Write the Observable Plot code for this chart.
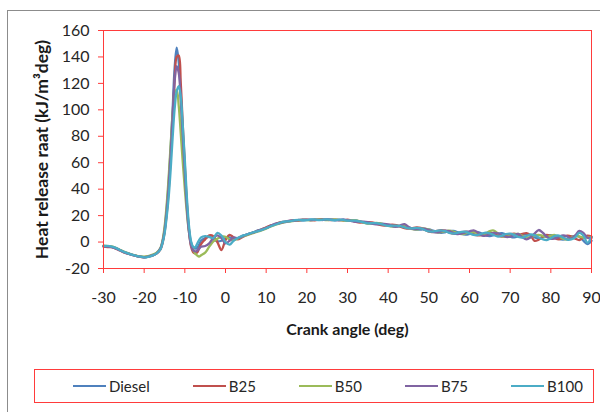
<!DOCTYPE html>
<html>
<head>
<meta charset="utf-8">
<script src="https://cdn.jsdelivr.net/npm/d3@7"></script>
<script src="https://cdn.jsdelivr.net/npm/@observablehq/plot@0.6"></script>
<style>
  body { margin: 0; background: #fff; font-family: Lato, "Open Sans", sans-serif; overflow: hidden; }
  #wrap { position: relative; width: 600px; height: 412px; overflow: hidden; }
  #border { position: absolute; left: 7px; top: 10px; width: 640px; height: 440px; border: 1px solid #8c8c8c; }
  #chart { position: absolute; left: 0; top: 0; }
  #legend {
    position: absolute; left: 34px; top: 369px; width: 560px; height: 34px;
    box-sizing: border-box; border: 1px solid #ff3b3b;
    display: flex; align-items: center; gap: 43px; padding-left: 38px;
    font-size: 15px; color: #262626;
  }
  .item { display: flex; align-items: center; }
  .swatch { display: inline-block; width: 33px; height: 2px; margin-right: 3px; }
</style>
</head>
<body>
<div id="wrap">
  <div id="border"></div>
  <div id="chart"></div>
  <div id="legend"></div>
</div>
<script>
// Crank angle (deg): 1° steps, 0.5° steps through the premixed combustion peak
const angle = [
  -30, -29, -28, -27, -26, -25, -24, -23, -22, -21, -20, -19, -18, -17,
  -16, -15.5, -15, -14.5, -14, -13.5, -13, -12.5, -12, -11.5, -11, -10.5, -10, -9.5, -9, -8.5, -8, -7.5, -7, -6.5, -6,
  -5, -4, -3, -2, -1, 0, 1, 2, 3, 4, 5, 6, 7, 8, 9,
  10, 11, 12, 13, 14, 15, 16, 17, 18, 19, 20, 21, 22, 23, 24, 25, 26, 27, 28, 29,
  30, 31, 32, 33, 34, 35, 36, 37, 38, 39, 40, 41, 42, 43, 44, 45, 46, 47, 48, 49,
  50, 51, 52, 53, 54, 55, 56, 57, 58, 59, 60, 61, 62, 63, 64, 65, 66, 67, 68, 69,
  70, 71, 72, 73, 74, 75, 76, 77, 78, 79, 80, 81, 82, 83, 84, 85, 86, 87, 88, 89, 90
];

// Heat release rate (kJ/m³deg) for each fuel
const diesel = [
  -3, -3.2, -3.6, -4.6, -6, -7.5, -8.6, -9.6, -10.4, -11, -11.4, -11, -10, -8.6,
  -5, 0, 9, 24, 44, 70, 100, 132, 147, 136, 112, 82, 55, 28, 10, 0, -4, -5, -4.5, -2, 1,
  3, 4, 2.5, 0.5, 1, 3, 3.5, 2.5, 3, 4.5, 5.5, 6.5, 7.5, 8.8, 9.8,
  10.8, 12.2, 13.3, 14.4, 14.9, 15.3, 15.9, 16.4, 16.5, 16.4, 16.7, 17, 16.9, 16.7, 16.9, 17.1, 16.9, 16.6, 16.8, 16.9,
  16.4, 16.4, 16.3, 15.6, 14.7, 14.1, 14.1, 14.3, 14.2, 13.5, 12.5, 11.8, 11.8, 12.1, 12.1, 11.2, 10.1, 9.4, 9.5, 9.8,
  9.6, 8.7, 7.6, 7, 7.4, 8.2, 8.4, 7.6, 6.3, 5.6, 6.1, 7.1, 7.5, 6.4, 5, 4.5, 5.4, 6.4, 6.7, 5.7,
  4.1, 3.5, 4.4, 5.5, 5.8, 5, 3.6, 2.9, 3.5, 4.8, 5.3, 4.4, 2.6, 1.9, 2.7, 4, 4.6, 4, 1, -1.5, 1
];
const b25 = [
  -3.5, -3.8, -3.9, -5, -6.3, -7.8, -8.8, -9.7, -10.5, -11.2, -11.5, -11, -10.2, -8.8,
  -5.5, -1, 7, 20, 38, 63, 92, 122, 140, 141, 120, 88, 58, 30, 10, -3, -7.5, -8.5, -8, -5, -1.5,
  2, 5, 4.5, 0, -6, 1.5, 5.5, 3.5, 2, 3.5, 5, 6.3, 7.5, 8.5, 9.7,
  11.2, 12.4, 13.1, 14.5, 15.2, 15.4, 16.2, 16.6, 16.3, 16.7, 17, 16.6, 16.5, 17.1, 17.2, 16.7, 16.6, 17, 16.7, 16.3,
  16.9, 16.3, 15.4, 14.8, 14.9, 15.1, 14.9, 14, 13, 12.5, 12.8, 13.1, 12.8, 11.6, 10.6, 10.1, 10.6, 11, 10.7, 9.3,
  7.8, 7.5, 8.4, 9, 8.6, 7.3, 6.3, 6.4, 7.3, 7.9, 7.3, 5.9, 5.1, 5.5, 6.6, 7, 6.2, 4.8, 4.1, 4.9,
  5.9, 6.3, 5.3, 6.2, 6.8, 5, 0.9, 1.8, 4.1, 5.5, 4.4, 2.8, 2.1, 3.5, 4.9, 4.4, 2.6, 1.5, 3.4, 4.8, 4.1
];
const b50 = [
  -2.8, -3, -3.3, -4.3, -5.8, -7.2, -8.4, -9.4, -10.2, -10.8, -11.1, -10.7, -9.6, -8.2,
  -4.5, 1, 11, 27, 48, 73, 97, 113, 115, 103, 82, 60, 40, 22, 8, -1, -5.5, -8.5, -10, -11, -10,
  -8, -3.5, 0.5, 2.5, 4, 4, 2, 1.5, 2.5, 3.8, 5, 6, 7, 8, 9,
  10.2, 11.6, 12.8, 13.8, 14.6, 15.4, 15.7, 16.1, 16.6, 16.9, 16.6, 16.5, 17, 17.2, 16.8, 16.6, 17, 17.1, 16.6, 16.4,
  16.1, 16.4, 16.4, 15.7, 14.7, 14, 14.1, 14.4, 14.2, 13.3, 12.3, 11.8, 12, 12.3, 12, 10.8, 9.8, 9.6, 10.1, 10.2,
  9.4, 8.2, 7.3, 7.5, 8.3, 8.6, 7.9, 6.7, 6, 6.5, 7.4, 7.6, 6.6, 5.2, 6.5, 8.3, 8.7, 6.5, 4.4, 4,
  4.9, 6, 6.1, 4.7, 3.6, 3.7, 4.9, 5.5, 4.7, 3.8, 4.9, 5.3, 4.1, 2.5, 1.9, 3.2, 4.6, 4.2, 3.4, 3.3, 3.6
];
const b75 = [
  -3.2, -3.4, -3.8, -4.8, -6.2, -7.6, -8.7, -9.7, -10.5, -11.1, -11.5, -11.1, -10.1, -8.7,
  -5, 0, 8, 22, 41, 66, 95, 122, 133, 128, 108, 80, 52, 26, 8, -2, -6, -7, -6.5, -5, -3.5,
  -3, -1, 3, 5, 3, -1, 1, 3.5, 3, 4, 5.5, 6.5, 7.3, 8.5, 9.5,
  10.6, 12, 13.6, 14.2, 14.8, 15.7, 16.1, 16.2, 16.7, 17, 16.8, 16.6, 16.9, 16.8, 16.7, 17.1, 17, 16.6, 16.5, 16.9,
  16.6, 15.8, 15.3, 15.4, 15.5, 15, 14, 13.4, 13.5, 13.7, 13.4, 12.2, 11.6, 12.7, 13.6, 11.5, 10, 9.9, 10.2, 10.1,
  9, 7.7, 7.3, 8.1, 8.7, 8.3, 7, 6.1, 6.4, 7.4, 8.1, 8.9, 7.3, 5.1, 4.8, 5.8, 6.9, 6.5, 5, 3.9,
  4.1, 5.4, 6.1, 3.7, 2.1, 3.5, 6.4, 9.1, 7.1, 4, 2.4, 2.8, 4.1, 5, 4.4, 2.7, 5.1, 8.5, 6.9, 3.3, 3.1
];
const b100 = [
  -3, -2.9, -3.4, -4.4, -6, -7.4, -8.5, -9.5, -10.4, -11, -11.6, -11.2, -10.3, -8.8,
  -5.5, -1, 6, 18, 33, 54, 79, 101, 114, 118, 110, 88, 62, 34, 13, 1, -3.5, -4, -1.5, 1.5, 3.5,
  4.5, 4, 3, 7, 5, 0, -2, 1, 3, 4.5, 5.5, 6.5, 7.5, 8.3, 9.3,
  10.4, 11.8, 12.9, 14, 15.2, 15.6, 15.8, 16.5, 16.8, 16.5, 16.6, 17.1, 16.9, 16.6, 17, 17.2, 16.7, 16.5, 17, 16.7,
  16.2, 16.2, 16.2, 15.6, 14.8, 14.2, 14.3, 14.3, 13.8, 12.9, 12.3, 12.4, 12.4, 12, 11.1, 10.4, 10.4, 10.7, 10.4, 9.1,
  8, 7.9, 8.5, 8.9, 8.2, 7, 6.4, 6.9, 7.7, 7.8, 6.6, 5.4, 5.3, 6.3, 7.2, 6.6, 5.2, 4.2, 4.8, 6.1,
  6.4, 5.3, 3.9, 3.4, 4.6, 5.7, 5.2, 3.5, 2.1, 1.5, 2.9, 4.6, 4.9, 3.5, 1.9, 2, 3.6, 7, 5, -0.5, 4
];

const fuels = ["Diesel", "B25", "B50", "B75", "B100"];
const fuelColors = ["#4f81bd", "#c0504d", "#9bbb59", "#8064a2", "#4bacc6"];
const xTicks = [-30, -20, -10, 0, 10, 20, 30, 40, 50, 60, 70, 80, 90];
const yTicks = [-20, 0, 20, 40, 60, 80, 100, 120, 140, 160];
const xTitle = "Crank angle (deg)";
const yTitle = "Heat release raat (kJ/m³deg)";

// Long-format table: one row per (fuel, angle)
const seriesValues = [diesel, b25, b50, b75, b100];
const rows = [];
fuels.forEach((name, k) => {
  angle.forEach((a, i) => rows.push({ angle: a, hrr: seriesValues[k][i], fuel: name }));
});

const red = "#ff3b3b";

const chart = Plot.plot({
  width: 600,
  height: 360,
  marginLeft: 103,
  marginRight: 9,
  marginTop: 30,
  marginBottom: 92,
  style: { fontFamily: "Lato, 'Open Sans', sans-serif", fontSize: "16px", color: "#262626", background: "transparent" },
  x: { domain: [-30, 90], label: null },
  y: { domain: [-20, 160], label: null },
  color: { domain: fuels, range: fuelColors },
  marks: [
    Plot.line(rows, { x: "angle", y: "hrr", z: "fuel", stroke: "fuel", strokeWidth: 2.3, curve: "catmull-rom" }),
    Plot.frame({ stroke: red, strokeWidth: 1 }),
    Plot.axisX({ ticks: xTicks, tickSize: 5, tickPadding: 18, stroke: red, strokeOpacity: 1, tickFormat: d => String(d), label: null }),
    Plot.axisY({ ticks: yTicks, tickSize: 5, tickPadding: 9, stroke: red, strokeOpacity: 1, tickFormat: d => String(d), label: null }),
    Plot.text([xTitle], { text: d => d, frameAnchor: "bottom", dy: 66, fontWeight: "bold", fontSize: 16, fill: "#1a1a1a" }),
    Plot.text([yTitle], { text: d => d, frameAnchor: "left", dx: -61, rotate: -90, textAnchor: "middle", lineAnchor: "middle", fontWeight: "bold", fontSize: 17.5, fill: "#1a1a1a" })
  ]
});
document.getElementById("chart").appendChild(chart);

// Legend row below the chart
const legend = d3.select("#legend");
fuels.forEach((name, k) => {
  const item = legend.append("div").attr("class", "item");
  item.append("span").attr("class", "swatch").style("background", fuelColors[k]);
  item.append("span").text(name);
});
</script>
</body>
</html>
